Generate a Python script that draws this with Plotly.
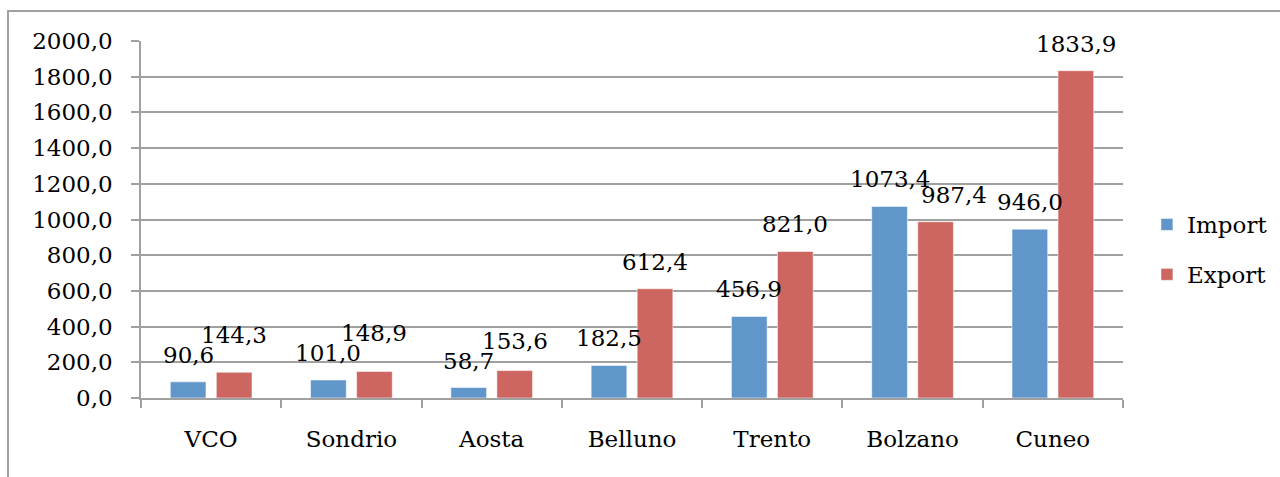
import plotly.graph_objects as go

categories = ["VCO", "Sondrio", "Aosta", "Belluno", "Trento", "Bolzano", "Cuneo"]
import_vals = [90.6, 101.0, 58.7, 182.5, 456.9, 1073.4, 946.0]
export_vals = [144.3, 148.9, 153.6, 612.4, 821.0, 987.4, 1833.9]
series_names = ["Import", "Export"]
y_ticks = [0, 200, 400, 600, 800, 1000, 1200, 1400, 1600, 1800, 2000]

FONT = "DejaVu Serif"
FS = 23
BLUE = "#6196ca"
RED = "#cd6661"
GRID = "#a0a0a0"

W, H = 1280, 477
ML, MR, MT, MB = 141, 157, 41, 79
plot_w = W - ML - MR
plot_h = H - MT - MB
YMAX = 2000

BARGAP = 0.344
GROUPGAP = 0.224
cat_w = plot_w / len(categories)
slot = cat_w * (1 - BARGAP) / 2
offset = slot / 2

LABEL_GAP = 12      # px between bar top and label box
MIN_SEP = 20        # px min vertical separation of the two labels in a group
SIDE_NUDGE = 18     # px sideways nudge when export label sits just below import label

def fmt(v):
    return f"{v:.1f}".replace(".", ",")

px_per_unit = plot_h / YMAX

fig = go.Figure()
for name, vals, col in [(series_names[0], import_vals, BLUE), (series_names[1], export_vals, RED)]:
    fig.add_trace(go.Bar(
        x=categories, y=vals, name=name, legendgroup=name,
        marker=dict(color=col, line=dict(color="rgba(255,255,255,0.55)", width=1)),
    ))

annotations = []
for c, vi, ve in zip(categories, import_vals, export_vals):
    shift_i = LABEL_GAP
    shift_e = LABEL_GAP
    xs_e = offset
    # simple collision handling (like Excel)
    diff = (ve - vi) * px_per_unit
    if 0 <= diff < MIN_SEP:
        shift_e += MIN_SEP - diff
    elif -MIN_SEP < diff < 0:
        xs_e += SIDE_NUDGE
    for v, xs, sh in [(vi, -offset, shift_i), (ve, xs_e, shift_e)]:
        annotations.append(dict(
            x=c, y=v, xref="x", yref="y", text=fmt(v), showarrow=False,
            xshift=xs, yshift=sh, yanchor="bottom", xanchor="center",
            font=dict(family=FONT, size=FS, color="#000"),
        ))

fig.update_layout(
    width=W, height=H,
    margin=dict(l=ML, r=MR, t=MT, b=MB, pad=0, autoexpand=False),
    paper_bgcolor="white", plot_bgcolor="white",
    barmode="group", bargap=BARGAP, bargroupgap=GROUPGAP,
    font=dict(family=FONT, size=FS, color="#000"),
    separators=",.",
    showlegend=True,
    legend=dict(x=1.0244, xanchor="left", y=0.416, yanchor="middle",
                font=dict(family=FONT, size=FS, color="#000"),
                tracegroupgap=17, bgcolor="rgba(0,0,0,0)"),
    annotations=annotations,
    shapes=[dict(type="rect", xref="paper", yref="paper",
                 x0=(8 - ML) / plot_w, x1=2.0,
                 y0=-1.0, y1=(H - MB - 11) / plot_h,
                 line=dict(color="#a0a0a0", width=2), layer="below")],
)

fig.update_yaxes(
    range=[0, YMAX], tickvals=y_ticks, tickformat=".1f",
    showgrid=True, gridcolor=GRID, gridwidth=1.5,
    showline=True, linecolor=GRID, linewidth=1.5,
    ticks="outside", ticklen=8, tickcolor=GRID, tickwidth=1.5,
    zeroline=False, ticklabelstandoff=14, automargin=False,
    tickfont=dict(family=FONT, size=FS, color="#000"),
)
fig.update_xaxes(
    type="category", showgrid=False,
    showline=True, linecolor=GRID, linewidth=1.5,
    ticks="outside", tickson="boundaries", ticklen=8, tickcolor=GRID, tickwidth=1.5,
    ticklabelstandoff=20, automargin=False,
    tickfont=dict(family=FONT, size=FS, color="#000"),
)

fig.write_html("out.html")
